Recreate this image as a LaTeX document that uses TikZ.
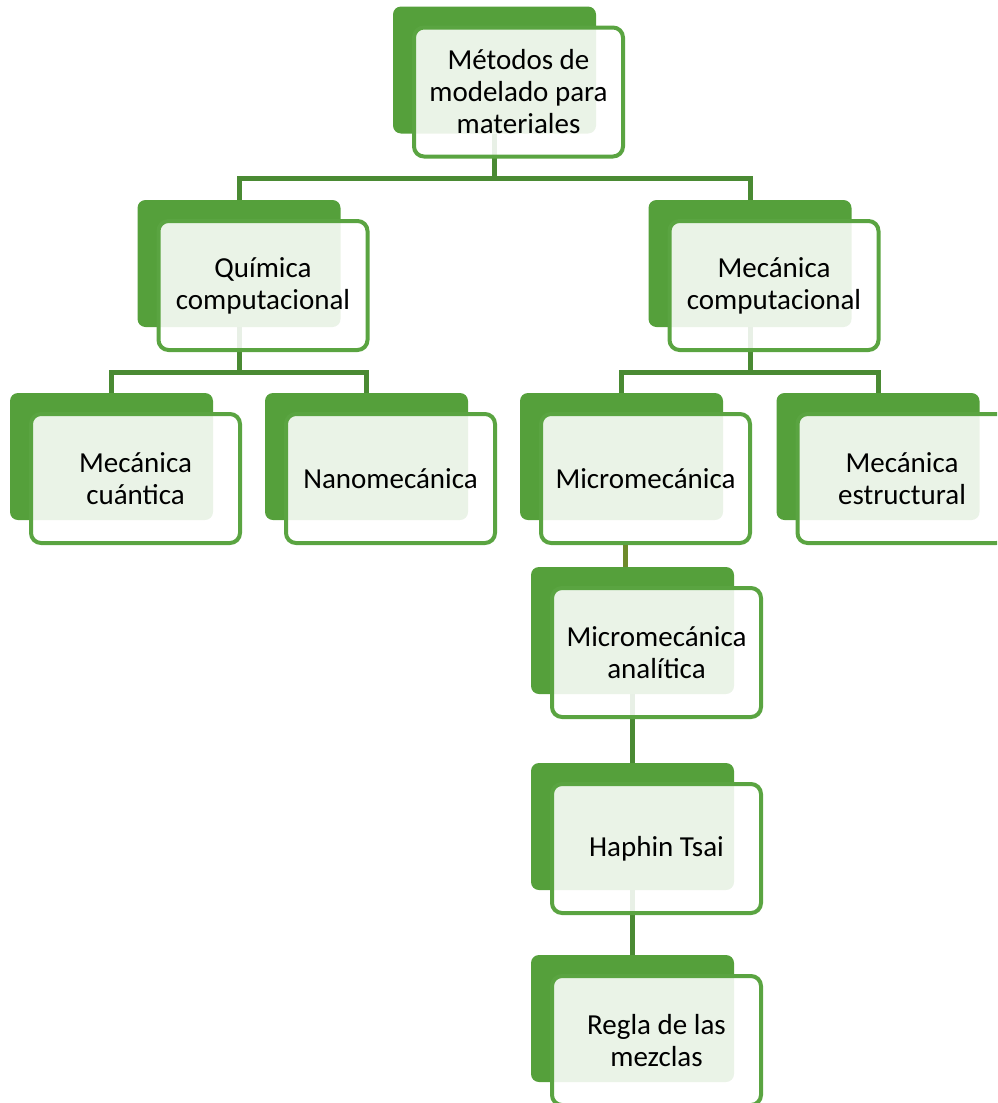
\documentclass[tikz,border=0pt]{standalone}
\usepackage{fontspec}
\setmainfont{Carlito}
\usetikzlibrary{positioning}
\definecolor{verdeFondo}{HTML}{55A03B}
\definecolor{verdeBorde}{HTML}{5AA441}
\definecolor{verdeLinea}{HTML}{4A8A33}
\definecolor{oliva}{HTML}{6E8B2B}
\begin{document}
\begin{tikzpicture}[x=1pt, y=-1pt,
        fondo/.style={fill=verdeFondo, rounded corners=8pt, minimum width=203pt, minimum height=127pt, inner sep=0pt},
        caja/.style={draw=verdeBorde, line width=4pt, fill=white, fill opacity=0.88, text opacity=1,
            rounded corners=10pt, minimum width=209pt, minimum height=129pt, inner sep=0pt,
            align=center, font=\fontsize{29}{32}\selectfont, xshift=24pt, yshift=-22pt},
        linea/.style={draw=verdeLinea, line width=5pt},
    ]
        \clip (0,0) rectangle (997,1103);

        % cajas de fondo
        \node[fondo] (raizB) at (494.5,70) {};
        \node[fondo] (quimB) at (239,263.5) {};
        \node[fondo] (mcompB) at (750,263.5) {};
        \node[fondo] (cuantB) at (111.5,456.5) {};
        \node[fondo] (nanoB) at (366.5,456.5) {};
        \node[fondo] (microB) at (621.5,456.5) {};
        \node[fondo] (estrB) at (878,456.5) {};
        \node[fondo] (analB) at (632.5,630.5) {};
        \node[fondo] (haphB) at (632.5,826.5) {};
        \node[fondo] (reglaB) at (632.5,1018.5) {};

        % conectores
        \coordinate (bus0) at (494.5,178);
        \coordinate (bus1) at (239,372);
        \coordinate (bus2) at (750,372);
        \draw[linea] (raizB.south) -- (bus0) -| (quimB.north);
        \draw[linea] (bus0) -| (mcompB.north);
        \draw[linea] (quimB.south) -- (bus1) -| (cuantB.north);
        \draw[linea] (bus1) -| (nanoB.north);
        \draw[linea] (mcompB.south) -- (bus2) -| (microB.north);
        \draw[linea] (bus2) -| (estrB.north);
        \draw[linea] (analB.south) -- (haphB.north);
        \draw[linea] (haphB.south) -- (reglaB.north);

        % cajas con texto
        \node[caja] (raiz) at (raizB) {Métodos de\\modelado para\\materiales};
        \node[caja] (quim) at (quimB) {Química\\computacional};
        \node[caja] (mcomp) at (mcompB) {Mecánica\\computacional};
        \node[caja] (cuant) at (cuantB) {Mecánica\\cuántica};
        \node[caja] (nano) at (nanoB) {Nanomecánica};
        \node[caja] (micro) at (microB) {Micromecánica};
        \node[caja] (estr) at (estrB) {Mecánica\\estructural};
        \node[caja] (anal) at (analB) {Micromecánica\\analítica};
        \node[caja] (haph) at (haphB) {Haphin Tsai};
        \node[caja] (regla) at (reglaB) {Regla de las\\mezclas};

        \draw[linea, draw=oliva] ([xshift=3.5pt]microB.south |- micro.south) -- ([xshift=3.5pt]microB.south |- analB.north);
    \end{tikzpicture}
\end{document}
